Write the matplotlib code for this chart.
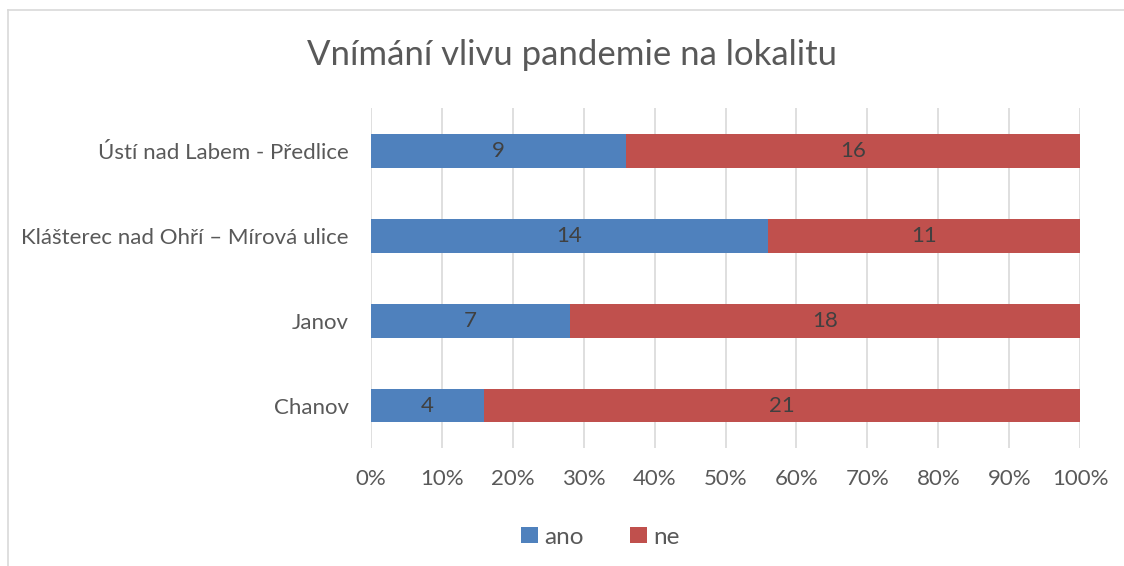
import numpy as np
import matplotlib.pyplot as plt
from matplotlib.lines import Line2D

# data
categories = ['Ústí nad Labem - Předlice', 'Klášterec nad Ohří – Mírová ulice', 'Janov', 'Chanov']
ano = [9, 14, 7, 4]
ne  = [16, 11, 18, 21]
series_names = ['ano', 'ne']
colors = ['#4F81BD', '#C0504D']
txt = '#595959'

plt.rcParams['font.family'] = ['Lato', 'DejaVu Sans']

fig = plt.figure(figsize=(11.24, 5.66), dpi=100)
ax = fig.add_axes([0.330, 0.2085, 0.631, 0.6005])

# percentages
tot = np.array(ano) + np.array(ne)
p_ano = np.array(ano) / tot * 100
p_ne  = np.array(ne) / tot * 100
y = np.arange(len(categories))[::-1]

b1 = ax.barh(y, p_ano, height=0.4, color=colors[0], label=series_names[0], zorder=3)
b2 = ax.barh(y, p_ne, left=p_ano, height=0.4, color=colors[1], label=series_names[1], zorder=3)
ax.bar_label(b1, labels=[str(v) for v in ano], label_type='center', color='#404040', fontsize=16)
ax.bar_label(b2, labels=[str(v) for v in ne], label_type='center', color='#404040', fontsize=16)

ax.set_xlim(0, 100)
ax.set_ylim(-0.5, 3.5)
ax.set_xticks(np.arange(0, 101, 10))
ax.set_xticklabels([f'{v}%' for v in range(0, 101, 10)])
ax.set_yticks(y)
ax.set_yticklabels(categories)
ax.tick_params(axis='both', length=0, labelsize=16, labelcolor=txt)
ax.tick_params(axis='x', pad=15)
ax.tick_params(axis='y', pad=16)
ax.grid(axis='x', color='#D9D9D9', linewidth=1.2, zorder=0)
for s in ax.spines.values():
    s.set_visible(False)

fig.text(0.509, 0.903, 'Vnímání vlivu pandemie na lokalitu', ha='center', va='center',
         fontsize=25, color=txt)

fig.legend(handles=[b1, b2], labels=series_names, loc='center',
           bbox_to_anchor=(0.534, 1 - 537/566), ncol=2, frameon=False,
           prop={'size': 17.5}, labelcolor=txt, handlelength=0.69, handleheight=0.69,
           columnspacing=1.9, handletextpad=0.26)

# chart border (top and left visible)
fig.add_artist(Line2D([8/1124, 1], [1 - 10/566, 1 - 10/566], color='#D9D9D9', linewidth=1.2))
fig.add_artist(Line2D([8/1124, 8/1124], [0, 1 - 10/566], color='#D9D9D9', linewidth=1.2))

plt.savefig('out.png', dpi=100)
